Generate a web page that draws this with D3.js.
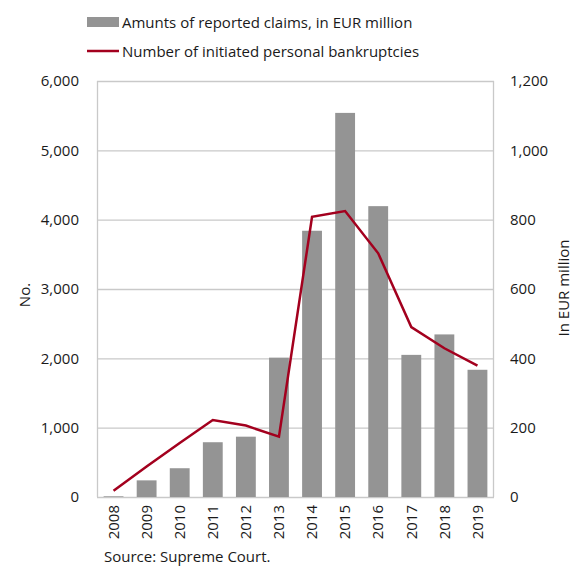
<!DOCTYPE html>
<html>
<head>
<meta charset="utf-8">
<script src="https://cdn.jsdelivr.net/npm/d3@7"></script>
<style>
  body { margin: 0; background: #fff; }
  text { font-family: "Open Sans", "Noto Sans", sans-serif; fill: #1a1a1a; }
</style>
</head>
<body>
<div class="center"></div>
<script>
// data
var years = ["2008", "2009", "2010", "2011", "2012", "2013", "2014", "2015", "2016", "2017", "2018", "2019"];
var claims = [2, 48, 83, 158, 174, 402, 768, 1108, 839, 410, 469, 367];          // EUR million (right axis)
var bankruptcies = [90, 440, 780, 1110, 1030, 870, 4040, 4125, 3515, 2450, 2145, 1895]; // No. (left axis)
var leftTicks = [0, 1000, 2000, 3000, 4000, 5000, 6000];
var rightTicks = [0, 200, 400, 600, 800, 1000, 1200];

var margin = {top: 81, right: 85, bottom: 72, left: 97},
    width = 579 - margin.left - margin.right,
    height = 569 - margin.top - margin.bottom;

var x = d3.scaleBand().domain(years).range([0, width]).paddingInner(0.4).paddingOuter(0.2);
var yL = d3.scaleLinear().domain([0, 6000]).range([height, 0]);
var yR = d3.scaleLinear().domain([0, 1200]).range([height, 0]);

var fmt = d3.format(",");

var svg = d3.select(".center").append("svg")
    .attr("width", 579)
    .attr("height", 569)
    .append("g")
    .attr("transform", "translate(" + margin.left + "," + margin.top + ")");

// gridlines
svg.selectAll(".grid")
    .data(leftTicks)
    .enter().append("line")
    .attr("x1", 0).attr("x2", width)
    .attr("y1", function(d) { return yL(d) + 0.5; })
    .attr("y2", function(d) { return yL(d) + 0.5; })
    .attr("stroke", "#c9c9c9")
    .attr("stroke-width", 1.3);

// bars
svg.selectAll(".bar")
    .data(claims)
    .enter().append("rect")
    .attr("x", function(d, i) { return x(years[i]); })
    .attr("y", function(d) { return yR(d); })
    .attr("width", x.bandwidth())
    .attr("height", function(d) { return height - yR(d); })
    .attr("fill", "#949494");

// plot frame sides
svg.append("line").attr("x1", 0.5).attr("x2", 0.5).attr("y1", 0).attr("y2", height)
    .attr("stroke", "#c9c9c9").attr("stroke-width", 1.3);
svg.append("line").attr("x1", width - 0.5).attr("x2", width - 0.5).attr("y1", 0).attr("y2", height)
    .attr("stroke", "#c9c9c9").attr("stroke-width", 1.3);

// line
var valueline = d3.line()
    .x(function(d, i) { return x(years[i]) + x.bandwidth() / 2; })
    .y(function(d) { return yL(d); });

svg.append("path")
    .datum(bankruptcies)
    .attr("d", valueline)
    .attr("fill", "none")
    .attr("stroke", "#a3001e")
    .attr("stroke-width", 2.5);

// left axis
var axL = svg.append("g")
    .call(d3.axisLeft(yL).tickValues(leftTicks).tickFormat(fmt).tickSize(0).tickPadding(18));
axL.select(".domain").remove();
axL.selectAll("text").attr("font-size", "15px").attr("font-family", "'Open Sans', sans-serif").attr("fill", "#1a1a1a");

// right axis
var axR = svg.append("g")
    .attr("transform", "translate(" + width + ",0)")
    .call(d3.axisRight(yR).tickValues(rightTicks).tickFormat(fmt).tickSize(0).tickPadding(16));
axR.select(".domain").remove();
axR.selectAll("text").attr("font-size", "15px").attr("font-family", "'Open Sans', sans-serif").attr("fill", "#1a1a1a");

// x axis
var axX = svg.append("g")
    .attr("transform", "translate(0," + height + ")")
    .call(d3.axisBottom(x).tickSize(0).tickPadding(0));
axX.select(".domain").remove();
axX.selectAll("text")
    .attr("font-size", "15px")
    .attr("font-family", "'Open Sans', sans-serif")
    .attr("fill", "#1a1a1a")
    .attr("transform", "rotate(-90)")
    .attr("text-anchor", "end")
    .attr("dy", "0.35em")
    .attr("x", -8)
    .attr("y", 0);

// axis titles
svg.append("text")
    .attr("font-size", "15px")
    .attr("transform", "rotate(-90)")
    .attr("x", -(295 - margin.top))
    .attr("y", -margin.left + 30)
    .attr("text-anchor", "middle")
    .text("No.");

svg.append("text")
    .attr("font-size", "15px")
    .attr("transform", "rotate(-90)")
    .attr("x", -(288 - margin.top))
    .attr("y", width + 75)
    .attr("text-anchor", "middle")
    .text("In EUR million");

// source
svg.append("text")
    .attr("font-size", "15px")
    .attr("x", 104 - margin.left)
    .attr("y", 562 - margin.top)
    .text("Source: Supreme Court.");

// legend
var legend = svg.append("g")
    .attr("transform", "translate(" + (87 - margin.left) + "," + (17 - margin.top) + ")");

legend.append("rect")
    .attr("x", 0).attr("y", 0)
    .attr("width", 32).attr("height", 10)
    .attr("fill", "#949494");

legend.append("text")
    .attr("x", 35).attr("y", 11)
    .attr("font-size", "15px")
    .text("Amunts of reported claims, in EUR million");

legend.append("line")
    .attr("x1", 0).attr("x2", 32)
    .attr("y1", 34).attr("y2", 34)
    .attr("stroke", "#a3001e")
    .attr("stroke-width", 2.5);

legend.append("text")
    .attr("x", 35).attr("y", 40)
    .attr("font-size", "15px")
    .text("Number of initiated personal bankruptcies");
</script>
</body>
</html>
